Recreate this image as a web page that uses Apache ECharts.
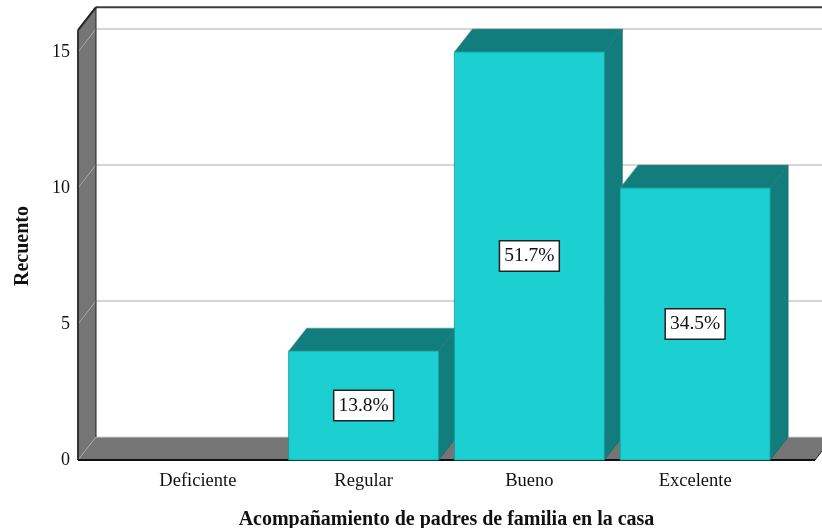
<!DOCTYPE html>
<html>
<head>
<meta charset="utf-8">
<title>Recuento</title>
<script src="https://cdn.jsdelivr.net/npm/echarts@6/dist/echarts.min.js"></script>
<style>
  html, body { margin: 0; padding: 0; background: #fff; }
  #chart { width: 822px; height: 528px; }
</style>
</head>
<body>
<div id="chart"></div>
<script>
var categories = ['Deficiente', 'Regular', 'Bueno', 'Excelente'];
var counts = [0, 4, 15, 10];
var percentLabels = ['', '13.8%', '51.7%', '34.5%'];
var yTicks = [0, 5, 10, 15];
var wallTop = 15.8;

// 3d look: how far the back plane sits from the front plane, in pixels
var depthX = 18;
var depthY = 23;
var sideGap = 37;
var serif = '"Liberation Serif", "Times New Roman", serif';

var chart = echarts.init(document.getElementById('chart'));

function poly(points, fill, stroke, width) {
  return {
    type: 'polygon',
    shape: { points: points },
    style: { fill: fill, stroke: stroke || null, lineWidth: width || 0 }
  };
}

function line(x1, y1, x2, y2, color, width) {
  return {
    type: 'line',
    shape: { x1: x1, y1: y1, x2: x2, y2: y2 },
    style: { stroke: color, lineWidth: width, fill: null }
  };
}

function renderWalls(params, api) {
  var band = api.size([1, 0])[0];
  var left = api.coord([0, 0])[0] - band / 2 - sideGap;
  var right = api.coord([categories.length - 1, 0])[0] + band / 2 + sideGap;
  var base = api.coord([0, 0])[1];
  var top = api.coord([0, wallTop])[1];
  var items = [];

  // left wall and floor
  items.push(poly([[left, top], [left + depthX, top - depthY], [left + depthX, base - depthY], [left, base]], '#757575'));
  items.push(poly([[left, base], [left + depthX, base - depthY], [right + depthX, base - depthY], [right, base]], '#757575'));

  // grid lines run over the side wall, then across the back
  yTicks.forEach(function (v) {
    var y = api.coord([0, v])[1];
    items.push(line(left, y, left + depthX, y - depthY, '#a8a8a8', 1));
    if (v > 0) {
      items.push(line(left + depthX, y - depthY, right + depthX, y - depthY, '#c8c8c8', 1.5));
    }
  });
  items.push(line(left + depthX, base - depthY, right + depthX, base - depthY, '#d0d0d0', 1));

  // frame
  items.push(line(left + depthX, top - depthY, right + depthX, top - depthY, '#3c3c3c', 2));
  items.push(line(left + depthX, top - depthY, left + depthX, base - depthY, '#222222', 1));
  items.push(line(left, top, left + depthX, top - depthY, '#222222', 2));
  items.push(line(left, top, left, base, '#333333', 2));
  items.push(line(left, base, right, base, '#111111', 2));
  items.push(line(right, base, right + depthX, base - depthY, '#222222', 1));

  return { type: 'group', children: items };
}

function renderBar(params, api) {
  var value = api.value(1);
  if (!value) {
    return null;
  }
  var center = api.coord([api.value(0), value]);
  var base = api.coord([api.value(0), 0])[1];
  var w = api.size([1, 0])[0] * 0.905;
  var x0 = center[0] - w / 2;
  var x1 = center[0] + w / 2;
  var yTop = center[1];
  var dark = '#127d7d';
  var edge = '#0f6a6a';

  return {
    type: 'group',
    children: [
      poly([[x0, yTop], [x0 + depthX, yTop - depthY], [x1 + depthX, yTop - depthY], [x1, yTop]], dark, '#5f8f8f', 0.6),
      poly([[x1, yTop], [x1 + depthX, yTop - depthY], [x1 + depthX, base - depthY], [x1, base]], dark, edge, 0.6),
      poly([[x0, yTop], [x1, yTop], [x1, base], [x0, base]], '#1ccfd0', '#149a9a', 0.8),
      {
        type: 'text',
        x: center[0],
        y: (yTop + base) / 2,
        style: {
          text: percentLabels[params.dataIndex],
          fontFamily: serif,
          fontSize: 19.5,
          fill: '#111111',
          align: 'center',
          verticalAlign: 'middle',
          backgroundColor: '#ffffff',
          borderColor: '#222222',
          borderWidth: 1.5,
          padding: [5, 4, 4, 4]
        }
      }
    ]
  };
}

chart.setOption({
  animation: false,
  backgroundColor: '#ffffff',
  grid: { left: 115, right: 44, top: 52, bottom: 68, outerBoundsMode: 'none' },
  xAxis: {
    type: 'category',
    data: categories,
    axisLine: { show: false },
    axisTick: { show: false },
    axisLabel: { color: '#111111', fontFamily: serif, fontSize: 18.5, margin: 12 },
    name: 'Acompañamiento de padres de familia en la casa',
    nameLocation: 'middle',
    nameGap: 50,
    nameTextStyle: { color: '#111111', fontFamily: serif, fontSize: 20, fontWeight: 'bold' }
  },
  yAxis: {
    type: 'value',
    min: 0,
    max: 15,
    interval: 5,
    offset: sideGap,
    axisLine: { show: false },
    axisTick: { show: false },
    splitLine: { show: false },
    axisLabel: { color: '#111111', fontFamily: serif, fontSize: 18, margin: 8, padding: [3, 0, 0, 0] },
    name: 'Recuento',
    nameLocation: 'middle',
    nameGap: 45,
    nameTextStyle: { color: '#111111', fontFamily: serif, fontSize: 20, fontWeight: 'bold', padding: [0, 0, 0, 20] }
  },
  series: [
    {
      type: 'custom',
      renderItem: renderWalls,
      clip: false,
      silent: true,
      data: [[0, 0]],
      z: 1
    },
    {
      type: 'custom',
      renderItem: renderBar,
      clip: false,
      encode: { x: 0, y: 1 },
      data: categories.map(function (c, i) { return [i, counts[i]]; }),
      z: 2
    }
  ]
});
</script>
</body>
</html>
